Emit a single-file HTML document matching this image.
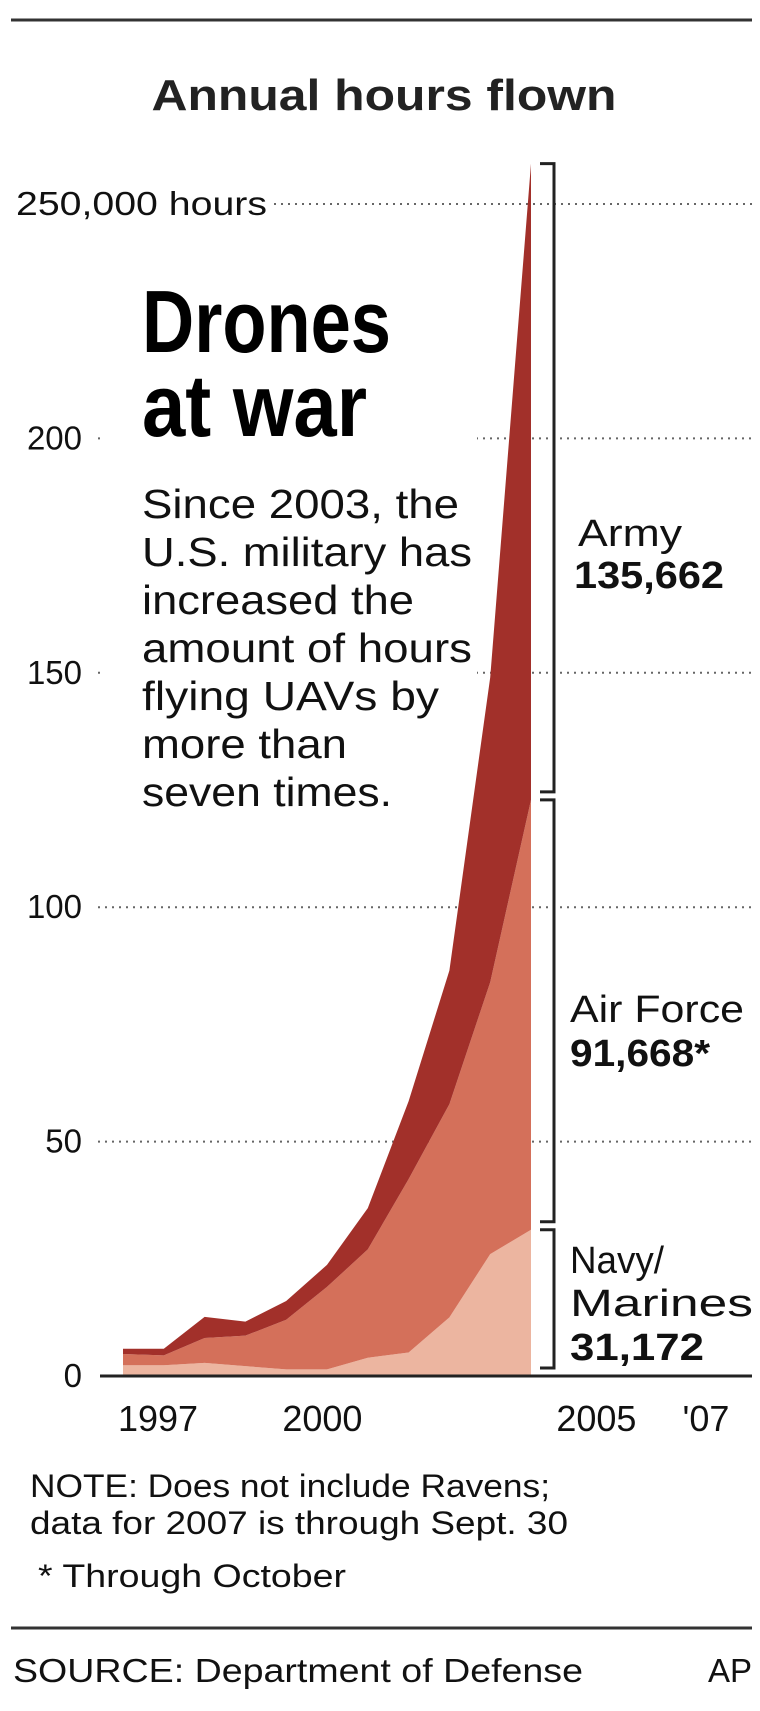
<!DOCTYPE html>
<html><head><meta charset="utf-8"><style>
html,body{margin:0;padding:0;background:#fff;}
svg{display:block;font-family:"Liberation Sans",sans-serif;}
</style></head><body>
<svg id="chart" width="760" height="1711" viewBox="0 0 760 1711">
<line x1="11" y1="20" x2="752" y2="20" stroke="#333" stroke-width="3"/>
<text x="384" y="110" text-anchor="middle" font-size="44" font-weight="bold" fill="#222" textLength="465" lengthAdjust="spacingAndGlyphs">Annual hours flown</text>
<g id="grid"></g>
<rect x="105" y="255" width="372" height="580" fill="#fff"/>
<g id="areas"></g>
<line x1="100" y1="1376" x2="752" y2="1376" stroke="#222" stroke-width="3"/>
<g id="xlabels"></g>
<g id="brackets"></g>
<text x="142" y="352" font-size="88" font-weight="bold" textLength="249" lengthAdjust="spacingAndGlyphs" fill="#000">Drones</text>
<text x="142" y="436" font-size="88" font-weight="bold" textLength="225" lengthAdjust="spacingAndGlyphs" fill="#000">at war</text>
<g font-size="41" fill="#111">
<text x="142" y="518" textLength="317" lengthAdjust="spacingAndGlyphs">Since 2003, the</text>
<text x="142" y="566" textLength="330" lengthAdjust="spacingAndGlyphs">U.S. military has</text>
<text x="142" y="614" textLength="272" lengthAdjust="spacingAndGlyphs">increased the</text>
<text x="142" y="662" textLength="330" lengthAdjust="spacingAndGlyphs">amount of hours</text>
<text x="142" y="710" textLength="297" lengthAdjust="spacingAndGlyphs">flying UAVs by</text>
<text x="142" y="758" textLength="205" lengthAdjust="spacingAndGlyphs">more than</text>
<text x="142" y="806" textLength="250" lengthAdjust="spacingAndGlyphs">seven times.</text>
</g>
<g font-size="38" fill="#111">
<text x="578" y="546" textLength="104" lengthAdjust="spacingAndGlyphs">Army</text>
<text x="574" y="588" font-weight="bold" textLength="150" lengthAdjust="spacingAndGlyphs">135,662</text>
<text x="570" y="1022" textLength="174" lengthAdjust="spacingAndGlyphs">Air Force</text>
<text x="570" y="1066" font-weight="bold" textLength="140" lengthAdjust="spacingAndGlyphs">91,668*</text>
<text x="570" y="1273" textLength="94" lengthAdjust="spacingAndGlyphs">Navy/</text>
<text x="570" y="1316" textLength="183" lengthAdjust="spacingAndGlyphs">Marines</text>
<text x="570" y="1360" font-weight="bold" textLength="134" lengthAdjust="spacingAndGlyphs">31,172</text>
</g>
<g font-size="32" fill="#111">
<text x="30" y="1497" textLength="520" lengthAdjust="spacingAndGlyphs">NOTE: Does not include Ravens;</text>
<text x="30" y="1534" textLength="538" lengthAdjust="spacingAndGlyphs">data for 2007 is through Sept. 30</text>
<text x="38" y="1587" textLength="308" lengthAdjust="spacingAndGlyphs">* Through October</text>
</g>
<line x1="11" y1="1628" x2="752" y2="1628" stroke="#333" stroke-width="3"/>
<text x="13" y="1682" font-size="33" fill="#111" textLength="570" lengthAdjust="spacingAndGlyphs">SOURCE: Department of Defense</text>
<text x="752" y="1682" font-size="33" fill="#111" text-anchor="end">AP</text>
</svg>
<script>
const years = [1997,1998,1999,2000,2001,2002,2003,2004,2005,2006,2007];
const navy = [2.3,2.3,2.8,2.1,1.4,1.4,3.9,5,12.5,26,31.2];
const airForce = [2.4,2.1,5.3,6.5,10.6,17.6,23.1,37,45.5,58,91.7];
const army = [1.1,1.4,4.5,3,4,4.7,8.8,16.6,28.5,65,135.7];
const yTicks = [0,50,100,150,200,250];
const yTickLabels = ["0","50","100","150","200","250,000 hours"];
const xTicks = [1997,2000,2005,2007];
const xTickLabels = ["1997","2000","2005","'07"];

const NS="http://www.w3.org/2000/svg";
function y(v){return 1376-(v/250)*1172;}
function xd(yr){return 123+(yr-1997)*(531-123)/10;}
function xl(yr){return 158+(yr-1997)*54.8;}
function mk(tag,attrs,parent){const e=document.createElementNS(NS,tag);for(const k in attrs)e.setAttribute(k,attrs[k]);parent.appendChild(e);return e;}

const grid=document.getElementById('grid');
yTicks.forEach((t,i)=>{
  const attrs={x:i===5?16:82,y:y(t)+11,'font-size':33,fill:'#111','text-anchor':i===5?'start':'end'};
  if(i===5){attrs.textLength=251;attrs.lengthAdjust='spacingAndGlyphs';}
  const label=mk('text',attrs,grid);
  label.textContent=yTickLabels[i];
  
  
  if(t>0){
    const ln=mk('line',{x1:i===5?274:98,y1:y(t),x2:752,y2:y(t),stroke:'#666','stroke-width':2,'stroke-dasharray':'2 5'},grid);
    
    
  }
});

const areas=document.getElementById('areas');
const series=[navy,airForce,army];
const colors=['#ecb5a0','#d4705a','#a2302a'];
const names=['navy-area','airforce-area','army-area'];
let base=years.map(()=>0);
series.forEach((s,si)=>{
  const top=base.map((b,i)=>b+s[i]);
  let d='M'+years.map((yr,i)=>xd(yr)+','+y(top[i])).join(' L');
  for(let i=years.length-1;i>=0;i--) d+=' L'+xd(years[i])+','+y(base[i]);
  d+=' Z';
  const p=mk('path',{d:d,fill:colors[si]},areas);
  
  
  base=top;
});

const xg=document.getElementById('xlabels');
xTicks.forEach((t,i)=>{
  const tx=mk('text',{x:xl(t),y:1431,'font-size':36,fill:'#111','text-anchor':'middle'},xg);
  tx.textContent=xTickLabels[i];
  
  
});

const bg=document.getElementById('brackets');
const n=navy[10], a=airForce[10], ar=army[10];
const segs=[[0,n,'navy-bracket'],[n,n+a,'airforce-bracket'],[n+a,n+a+ar,'army-bracket']];
segs.forEach(s=>{
  const y0=y(s[0])-8, y1=y(s[1]);
  const p=mk('path',{d:'M540,'+y1+' L554,'+y1+' L554,'+y0+' L540,'+y0,fill:'none',stroke:'#222','stroke-width':3},bg);
  
  
});
</script>
</body></html>
